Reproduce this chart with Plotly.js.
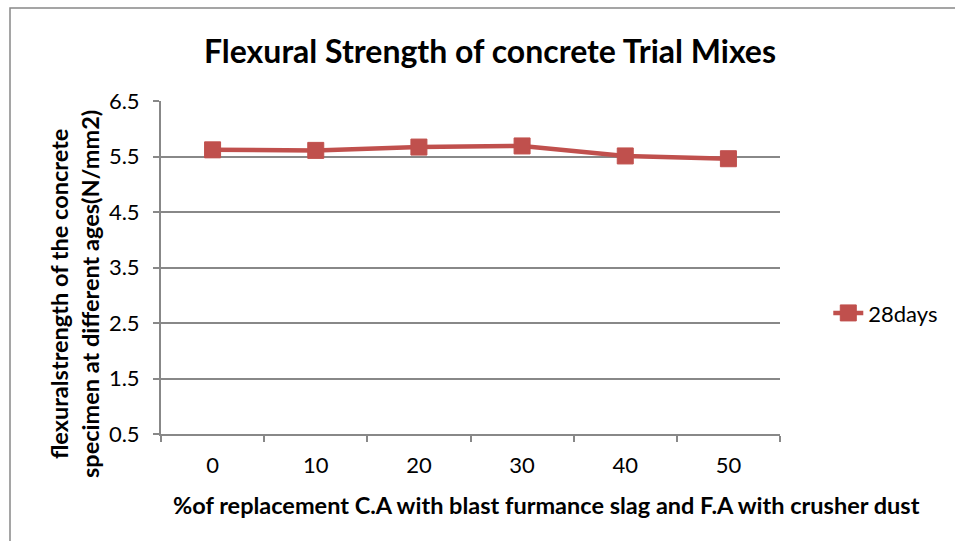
<!DOCTYPE html>
<html>
<head>
<meta charset="utf-8">
<script src="https://cdn.plot.ly/plotly-3.0.1.min.js"></script>
<style>
  html, body { margin: 0; padding: 0; background: #fff; }
  #chart { width: 955px; height: 541px; }
</style>
</head>
<body>
<div id="chart"></div>
<script>
const categories = ["0", "10", "20", "30", "40", "50"];
const strength28 = [5.62, 5.61, 5.67, 5.69, 5.51, 5.46];
const yTicks = [0.5, 1.5, 2.5, 3.5, 4.5, 5.5, 6.5];
const seriesName = "28days";
const chartTitle = "Flexural Strength of concrete Trial Mixes";
const xTitle = "%of replacement C.A with blast furmance slag and F.A with crusher dust";
const yTitle = "flexuralstrength of the concrete<br>specimen at different ages(N/mm2)";

const FONT = "Lato, 'Open Sans', 'DejaVu Sans', sans-serif";
const RED = "#C0504D";
const GRID = "#888888";

const trace = {
  type: "scatter",
  mode: "lines+markers",
  x: categories,
  y: strength28,
  name: seriesName,
  line: { color: RED, width: 4.5 },
  marker: { symbol: "square", size: 16, color: RED, line: { color: RED, width: 1 } }
};

const layout = {
  width: 955,
  height: 541,
  margin: { l: 161, r: 175, t: 101, b: 107 },
  paper_bgcolor: "#ffffff",
  plot_bgcolor: "#ffffff",
  font: { family: FONT, color: "#000000", size: 22 },
  title: {
    text: "<b>" + chartTitle + "</b>",
    font: { family: FONT, size: 32, color: "#000000" },
    x: 490 / 955, xanchor: "center",
    y: 1 - 52 / 541, yanchor: "middle"
  },
  showlegend: true,
  legend: {
    x: 1.078, xanchor: "left",
    y: 0.363, yanchor: "middle",
    font: { family: FONT, size: 22, color: "#000000" },
    bgcolor: "rgba(0,0,0,0)"
  },
  xaxis: {
    type: "category",
    range: [-0.5, 5.5],
    showgrid: false,
    showline: true,
    linecolor: GRID,
    linewidth: 2,
    ticks: "outside",
    tickson: "boundaries",
    ticklen: 6,
    tickwidth: 2,
    tickcolor: GRID,
    ticklabelstandoff: 11,
    tickfont: { family: FONT, size: 22, color: "#000000" },
    zeroline: false,
    fixedrange: true
  },
  yaxis: {
    range: [0.5, 6.5],
    tickvals: yTicks,
    ticktext: yTicks.map(v => v.toFixed(1)),
    showgrid: true,
    gridcolor: GRID,
    gridwidth: 2,
    showline: true,
    linecolor: GRID,
    linewidth: 2,
    ticks: "outside",
    ticklen: 6,
    tickwidth: 2,
    tickcolor: GRID,
    ticklabelstandoff: 9,
    tickfont: { family: FONT, size: 22, color: "#000000" },
    zeroline: false,
    fixedrange: true
  },
  annotations: [
    {
      text: "<b>" + xTitle + "</b>",
      xref: "paper", yref: "paper",
      x: (546 - 161) / 619, y: (434 - 505) / 333,
      xanchor: "center", yanchor: "middle",
      showarrow: false,
      font: { family: FONT, size: 23.5, color: "#000000" }
    },
    {
      text: "<b>" + yTitle + "</b>",
      xref: "paper", yref: "paper",
      x: (74 - 161) / 619, y: (434 - 294) / 333,
      xanchor: "center", yanchor: "middle",
      textangle: -90,
      showarrow: false,
      font: { family: FONT, size: 23.5, color: "#000000" }
    }
  ],
  shapes: [
    {
      type: "rect", xref: "paper", yref: "paper",
      x0: (10 - 161) / 619, x1: 2,
      y0: -2, y1: (434 - 8) / 333,
      line: { color: "#888888", width: 1.5 },
      fillcolor: "rgba(0,0,0,0)",
      layer: "below"
    }
  ]
};

Plotly.newPlot("chart", [trace], layout, { displayModeBar: false, staticPlot: true });
</script>
</body>
</html>
